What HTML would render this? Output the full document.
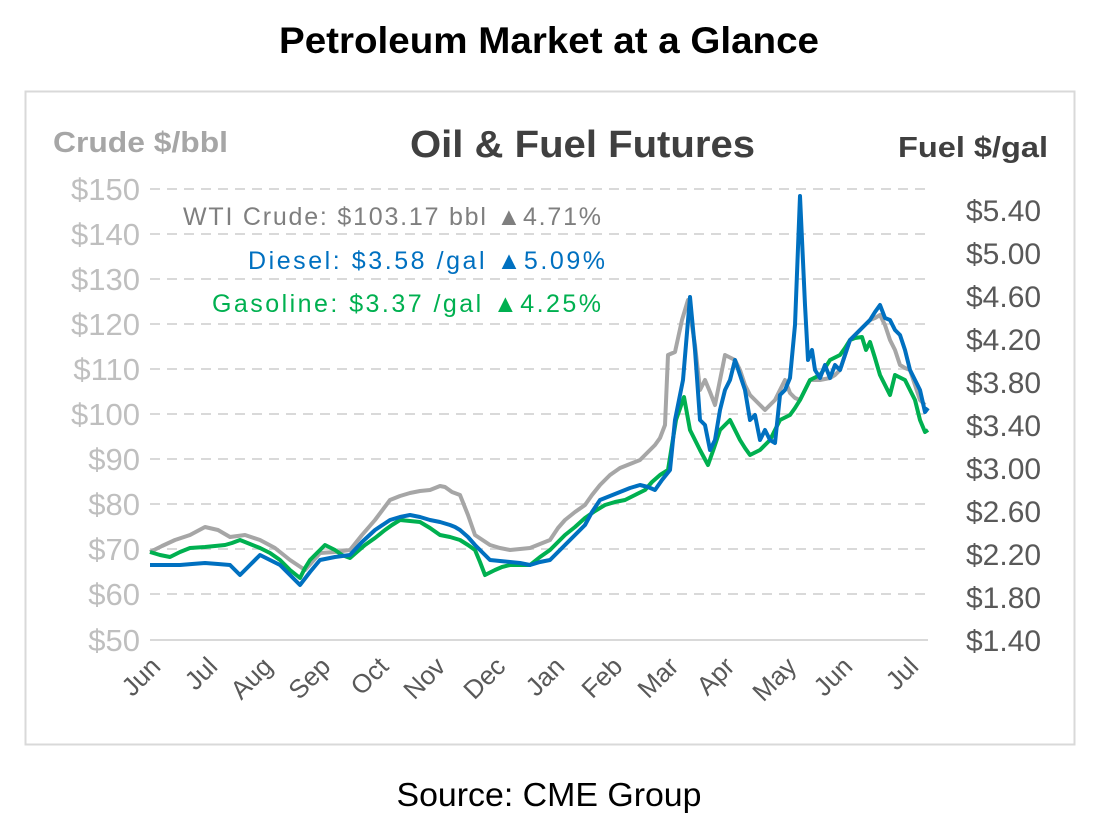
<!DOCTYPE html>
<html><head><meta charset="utf-8"><style>
body{margin:0;background:#fff;width:1098px;height:829px;overflow:hidden;font-family:"Liberation Sans",sans-serif}
</style></head><body>
<svg width="1098" height="829" xmlns="http://www.w3.org/2000/svg" font-family="Liberation Sans, sans-serif">
<text x="549" y="53" text-anchor="middle" font-size="37" font-weight="bold" fill="#000" textLength="540" lengthAdjust="spacingAndGlyphs">Petroleum Market at a Glance</text>
<rect x="25.5" y="91.5" width="1049" height="653" fill="none" stroke="#d9d9d9" stroke-width="2"/>
<text x="53" y="152" font-size="29" font-weight="bold" fill="#a6a6a6" textLength="175" lengthAdjust="spacingAndGlyphs">Crude $/bbl</text>
<text x="410" y="157" font-size="38" font-weight="bold" fill="#404040" textLength="345" lengthAdjust="spacingAndGlyphs">Oil &amp; Fuel Futures</text>
<text x="898" y="157" font-size="29" font-weight="bold" fill="#404040" textLength="150" lengthAdjust="spacingAndGlyphs">Fuel $/gal</text>
<g stroke="#d9d9d9" stroke-width="2" stroke-dasharray="10,7">
<line x1="150" y1="189" x2="928" y2="189"/><line x1="150" y1="234" x2="928" y2="234"/><line x1="150" y1="279" x2="928" y2="279"/><line x1="150" y1="324" x2="928" y2="324"/><line x1="150" y1="369" x2="928" y2="369"/><line x1="150" y1="414" x2="928" y2="414"/><line x1="150" y1="459" x2="928" y2="459"/><line x1="150" y1="504" x2="928" y2="504"/><line x1="150" y1="549" x2="928" y2="549"/><line x1="150" y1="594" x2="928" y2="594"/>
</g>
<line x1="150" y1="640" x2="928" y2="640" stroke="#d9d9d9" stroke-width="2"/>
<g font-size="31" fill="#bfbfbf" text-anchor="end">
<text x="140" y="200">$150</text><text x="140" y="245">$140</text><text x="140" y="290">$130</text><text x="140" y="335">$120</text><text x="140" y="380">$110</text><text x="140" y="425">$100</text><text x="140" y="470">$90</text><text x="140" y="515">$80</text><text x="140" y="560">$70</text><text x="140" y="605">$60</text><text x="140" y="651">$50</text>
</g>
<g font-size="30" fill="#595959" text-anchor="start">
<text x="966" y="221">$5.40</text><text x="966" y="264">$5.00</text><text x="966" y="307">$4.60</text><text x="966" y="350">$4.20</text><text x="966" y="393">$3.80</text><text x="966" y="436">$3.40</text><text x="966" y="479">$3.00</text><text x="966" y="522">$2.60</text><text x="966" y="565">$2.20</text><text x="966" y="608">$1.80</text><text x="966" y="651">$1.40</text>
</g>
<g font-size="26" fill="#595959" text-anchor="end">
<text transform="translate(162,668) rotate(-45)">Jun</text>
<text transform="translate(219,668) rotate(-45)">Jul</text>
<text transform="translate(274,668) rotate(-45)">Aug</text>
<text transform="translate(332,668) rotate(-45)">Sep</text>
<text transform="translate(390,668) rotate(-45)">Oct</text>
<text transform="translate(447,668) rotate(-45)">Nov</text>
<text transform="translate(507,668) rotate(-45)">Dec</text>
<text transform="translate(566,668) rotate(-45)">Jan</text>
<text transform="translate(624,668) rotate(-45)">Feb</text>
<text transform="translate(680,668) rotate(-45)">Mar</text>
<text transform="translate(736,668) rotate(-45)">Apr</text>
<text transform="translate(798,668) rotate(-45)">May</text>
<text transform="translate(854,668) rotate(-45)">Jun</text>
<text transform="translate(920,668) rotate(-45)">Jul</text>
</g>
<g font-size="25">
<text x="183" y="225" fill="#7f7f7f" textLength="418" lengthAdjust="spacing">WTI Crude: $103.17 bbl  ▲4.71%</text>
<text x="248" y="269" fill="#0070c0" textLength="357" lengthAdjust="spacing">Diesel:   $3.58 /gal  ▲5.09%</text>
<text x="212" y="312" fill="#00b050" textLength="389" lengthAdjust="spacing">Gasoline:   $3.37 /gal  ▲4.25%</text>
</g>
<g fill="none" stroke-width="4" stroke-linejoin="round">
<polyline stroke="#a6a6a6" points="150,552 162,546 175,540 190,535 205,527 218,530 230,537 245,535 260,540 275,548 290,560 305,570 320,553 335,552 350,550 362,535 375,520 390,500 400,496 410,493 420,491 430,490 440,486 445,487 452,492 460,495 468,515 475,535 490,545 500,548 510,550 520,549 530,548 540,544 550,540 558,528 565,520 575,512 585,505 592,495 600,485 610,475 620,468 630,464 640,460 648,452 655,445 660,438 665,425 668,355 675,352 682,320 688,300 695,345 700,390 705,380 710,392 715,405 720,380 725,355 735,360 740,370 745,385 750,395 755,400 760,405 765,410 770,405 775,400 780,390 785,380 790,393 795,398 800,400 805,390 810,380 820,380 830,378 835,375 840,370 845,355 850,340 855,335 860,330 865,325 870,320 875,318 880,315 885,325 890,340 895,350 900,365 905,368 910,370 915,385 920,400 925,405"/>
<polyline stroke="#00b050" points="150,552 160,555 170,557 180,552 190,548 205,547 215,546 225,545 232,543 240,540 250,544 260,548 270,553 280,560 290,570 300,578 305,568 310,560 318,552 325,545 335,550 342,555 350,558 358,551 365,545 375,538 385,530 392,525 400,520 410,521 420,522 430,528 440,535 450,537 460,540 468,545 475,550 480,562 485,575 495,570 502,567 510,565 520,565 530,565 540,557 550,550 558,542 565,535 575,527 585,518 595,511 605,505 615,502 625,500 635,495 645,490 652,482 660,475 668,470 672,445 676,420 684,397 690,430 695,440 700,450 708,465 714,448 720,430 730,420 735,430 740,440 745,448 750,455 760,450 765,445 770,440 775,430 780,420 790,415 795,408 800,400 805,390 810,380 820,375 825,368 830,360 840,355 845,348 850,340 855,338 862,337 866,350 870,342 875,358 880,375 885,385 890,395 895,375 905,380 910,390 915,400 920,420 925,432 928,430"/>
<polyline stroke="#0070c0" points="150,565 165,565 180,565 192,564 205,563 218,564 230,565 235,570 240,575 250,565 260,555 270,560 280,565 290,575 300,585 310,572 320,560 335,557 350,555 362,542 375,530 390,520 400,517 410,515 420,517 430,520 440,522 450,525 455,527 460,530 468,537 475,545 482,552 490,560 500,561 510,562 520,563 530,565 540,562 550,560 558,552 565,545 575,535 585,525 592,512 600,500 610,496 620,492 630,488 640,485 648,487 655,490 662,480 670,470 675,420 683,380 690,297 695,350 700,420 705,425 710,450 715,440 720,410 725,390 730,380 735,360 740,375 745,390 750,420 755,415 760,440 765,430 770,440 775,443 780,395 785,390 790,378 795,325 800,196 805,305 808,360 812,350 815,370 820,378 825,365 830,378 835,365 840,370 845,355 850,340 855,335 860,330 865,325 870,320 875,312 880,305 885,318 890,320 895,330 900,335 905,350 910,370 915,380 920,390 925,412 928,408"/>
</g>
<text x="549" y="806" text-anchor="middle" font-size="33" fill="#000" textLength="305" lengthAdjust="spacingAndGlyphs">Source: CME Group</text>
</svg>
</body></html>
